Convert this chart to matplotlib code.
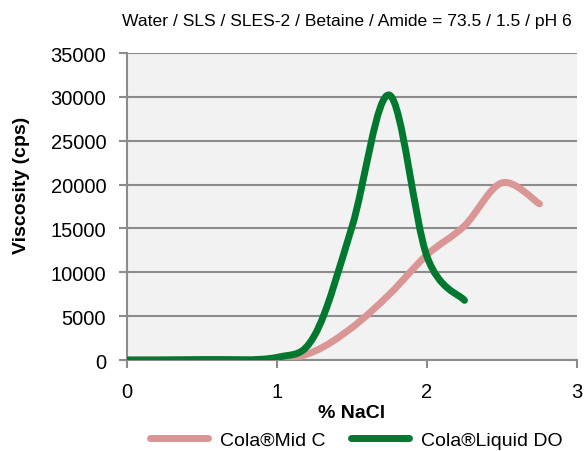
import matplotlib.pyplot as plt
from matplotlib.path import Path
from matplotlib.patches import PathPatch
from matplotlib.lines import Line2D

plt.rcParams['font.family'] = ['Liberation Sans', 'DejaVu Sans']

# data
nacl_mid = [0, 0.5, 1.0, 1.25, 1.5, 1.75, 2.0, 2.25, 2.5, 2.75]
visc_mid = [0, 0, 50, 1000, 3700, 7500, 12000, 15300, 20200, 17800]
nacl_liq = [0, 0.5, 1.0, 1.25, 1.5, 1.75, 2.0, 2.25]
visc_liq = [0, 50, 300, 2800, 15200, 30200, 11800, 6800]

names = ['Cola®Mid C', 'Cola®Liquid DO']
colors = ['#da9694', '#00782f']
title = 'Water / SLS / SLES-2 / Betaine / Amide = 73.5 / 1.5 / pH 6'


def smooth_path(xs, ys):
    # Excel-style smoothed line: Catmull-Rom segments as cubic beziers
    pts = list(zip(xs, ys))
    n = len(pts)
    verts = [pts[0]]
    codes = [Path.MOVETO]
    for i in range(n - 1):
        p0 = pts[max(i - 1, 0)]
        p1 = pts[i]
        p2 = pts[i + 1]
        p3 = pts[min(i + 2, n - 1)]
        c1 = (p1[0] + (p2[0] - p0[0]) / 6, p1[1] + (p2[1] - p0[1]) / 6)
        c2 = (p2[0] - (p3[0] - p1[0]) / 6, p2[1] - (p3[1] - p1[1]) / 6)
        verts += [c1, c2, p2]
        codes += [Path.CURVE4] * 3
    return Path(verts, codes)


fig = plt.figure(figsize=(5.84, 4.52), dpi=100)
ax = fig.add_axes([0.2175, 0.2013, 0.7705, 0.6792])
ax.set_facecolor('#f2f2f2')

for xs, ys, c in [(nacl_mid, visc_mid, colors[0]), (nacl_liq, visc_liq, colors[1])]:
    ax.add_patch(PathPatch(smooth_path(xs, ys), fill=False, edgecolor=c, lw=5,
                           capstyle='round', joinstyle='round', transform=ax.transData,
                           zorder=3))

ax.set_xlim(0, 3)
ax.set_ylim(0, 35000)
ax.set_xticks([0, 1, 2, 3])
ax.set_yticks(range(0, 35001, 5000))
ax.yaxis.grid(True, color='#8c8c8c', lw=1.5)
ax.set_axisbelow(True)
for s in ['top', 'right']:
    ax.spines[s].set_visible(False)
for s in ['left', 'bottom']:
    ax.spines[s].set_color('#8c8c8c')
    ax.spines[s].set_linewidth(1.5)
ax.tick_params(axis='both', colors='#8c8c8c', width=1.5, length=6, labelsize=14.5,
               labelcolor='black', pad=9)
ax.tick_params(axis='x', pad=10)

ax.set_xlabel('% NaCl', fontsize=14, fontweight='bold', labelpad=2)
fig.text(0.036, 0.59, 'Viscosity (cps)', rotation=90, fontsize=14, fontweight='bold',
         ha='center', va='center')
fig.text(0.594, 0.952, title, fontsize=12.6, ha='center', va='center')

handles = [Line2D([], [], color=c, lw=5, solid_capstyle='round') for c in colors]
fig.legend(handles, names, loc='center', bbox_to_anchor=(0.61, 0.025), ncol=2,
           frameon=False, fontsize=14, handlelength=3.0, columnspacing=1.3,
           handletextpad=0.6)

fig.savefig('out.png', dpi=100)
